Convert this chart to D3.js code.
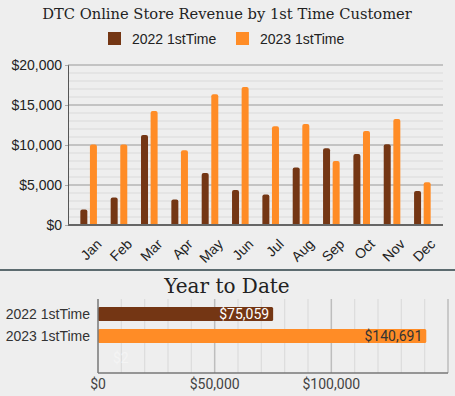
<!DOCTYPE html>
<html>
<head>
<meta charset="utf-8">
<script src="https://cdn.jsdelivr.net/npm/d3@7"></script>
<style>
  body { margin: 0; background: #eeeeee; }
  svg { display: block; }
</style>
</head>
<body>
<svg id="chart" width="455" height="396"></svg>
<script>
// data
const months = ['Jan', 'Feb', 'Mar', 'Apr', 'May', 'Jun', 'Jul', 'Aug', 'Sep', 'Oct', 'Nov', 'Dec'];
const rev2022 = [1950, 3450, 11250, 3200, 6500, 4375, 3800, 7200, 9580, 8875, 10080, 4250];
const rev2023 = [10050, 10050, 14250, 9330, 16330, 17250, 12330, 12630, 8000, 11750, 13250, 5330];
const seriesNames = ['2022 1stTime', '2023 1stTime'];
const yTicks = [0, 5000, 10000, 15000, 20000];
const ytdNames = ['2022 1stTime', '2023 1stTime', ''];
const ytdValues = [75059, 140691, 2];
const xTicks = [0, 50000, 100000];

const colors = ['#743614', '#ff8c26'];
const fmt = d3.format('$,');
const sans = '"Liberation Sans", Arial, sans-serif';

let svg = d3.select('#chart');

svg.append('rect').attr('width', 455).attr('height', 396).attr('fill', '#eeeeee');

// title + legend
svg.append('text')
  .attr('x', 227).attr('y', 19)
  .attr('text-anchor', 'middle')
  .style('font-family', '"DejaVu Serif"')
  .style('font-size', '14.7px')
  .attr('fill', '#222')
  .text('DTC Online Store Revenue by 1st Time Customer');

let legend = svg.append('g');
[108, 236].forEach((lx, i) => {
  legend.append('rect')
    .attr('x', lx).attr('y', 32).attr('width', 13).attr('height', 13)
    .attr('fill', colors[i]);
  legend.append('text')
    .attr('x', lx + 24).attr('y', 44)
    .style('font-family', sans)
    .style('font-size', '14px')
    .attr('fill', '#222')
    .text(seriesNames[i]);
});

// ---- monthly bars ----
let pL = 68, pR = 443, pT = 65, pB = 225;

let x = d3.scalePoint().domain(months).range([pL, pR]).padding(0.68);
let y = d3.scaleLinear().domain([0, 20000]).range([pB, pT]);

let grid = svg.append('g');
d3.range(1000, 20001, 1000).forEach(v => {
  let major = v % 5000 === 0;
  grid.append('line')
    .attr('x1', pL).attr('x2', pR)
    .attr('y1', y(v)).attr('y2', y(v))
    .attr('stroke', major ? '#b5b5b5' : '#d9d9d9')
    .attr('stroke-width', major ? 1.5 : 1.2);
});

let yAxis = d3.axisLeft(y).tickValues(yTicks).tickFormat(fmt).tickSize(3).tickPadding(3);
let yg = svg.append('g').attr('transform', `translate(${pL},0)`).call(yAxis);
yg.select('.domain').attr('stroke', '#555');
yg.selectAll('.tick line').attr('stroke', '#aaa');
yg.selectAll('.tick text')
  .style('font-family', sans)
  .style('font-size', '14px')
  .attr('fill', '#222');

function topRounded(x0, y0, w, h, r) {
  r = Math.min(r, h);
  return `M${x0},${y0 + h}V${y0 + r}Q${x0},${y0} ${x0 + r},${y0}H${x0 + w - r}Q${x0 + w},${y0} ${x0 + w},${y0 + r}V${y0 + h}Z`;
}

let bw = 7;
[rev2022, rev2023].forEach((vals, s) => {
  svg.append('g').selectAll('path')
    .data(vals)
    .join('path')
    .attr('fill', colors[s])
    .attr('d', (d, i) => {
      let cx = x(months[i]);
      let x0 = s === 0 ? cx - 1.3 - bw : cx + 1.3;
      return topRounded(x0, y(d), bw, pB - y(d), 2);
    });
});

svg.append('line')
  .attr('x1', pL).attr('x2', pR)
  .attr('y1', pB).attr('y2', pB)
  .attr('stroke', '#666').attr('stroke-width', 2);

let xg = svg.append('g');
months.forEach(m => {
  xg.append('text')
    .attr('transform', `translate(${x(m) + 7},${pB + 13}) rotate(-45)`)
    .attr('text-anchor', 'end')
    .attr('dy', '0.7em')
    .style('font-family', sans)
    .style('font-size', '14px')
    .attr('fill', '#222')
    .text(m);
});

// separator
svg.append('line')
  .attr('x1', 0).attr('x2', 455).attr('y1', 270).attr('y2', 270)
  .attr('stroke', '#2b3f45').attr('stroke-width', 1.5);

// ---- year to date ----
svg.append('text')
  .attr('x', 227).attr('y', 293)
  .attr('text-anchor', 'middle')
  .style('font-family', '"DejaVu Serif"')
  .style('font-size', '20px')
  .attr('fill', '#222')
  .text('Year to Date');

let bl = 98, br = 448, bt = 299, bb = 373;
let xb = d3.scaleLinear().domain([0, 150000]).range([bl, bl + 350]);
let yb = d3.scaleBand().domain(ytdNames).range([bt, bb]).paddingInner(0.364).paddingOuter(0.364);

d3.range(10000, 150001, 10000).forEach(v => {
  let major = v % 50000 === 0;
  svg.append('line')
    .attr('x1', xb(v)).attr('x2', xb(v))
    .attr('y1', bt).attr('y2', bb)
    .attr('stroke', major ? '#bdbdbd' : '#dcdcdc')
    .attr('stroke-width', major ? 1.5 : 1.2);
});

svg.append('g').selectAll('rect')
  .data(ytdValues.slice(0, 2))
  .join('rect')
  .attr('x', bl)
  .attr('y', (d, i) => yb(ytdNames[i]))
  .attr('width', d => xb(d) - bl)
  .attr('height', yb.bandwidth())
  .attr('rx', 1.5)
  .attr('fill', (d, i) => colors[i]);

svg.append('g').selectAll('text')
  .data(ytdValues)
  .join('text')
  .attr('x', (d, i) => i < 2 ? xb(d) - 4 : bl + 15)
  .attr('y', (d, i) => yb(ytdNames[i]) + yb.bandwidth() / 2)
  .attr('dy', '0.36em')
  .attr('text-anchor', (d, i) => i < 2 ? 'end' : 'start')
  .style('font-family', 'Roboto, "Liberation Sans"')
  .style('font-size', '14px')
  .attr('fill', (d, i) => i === 0 ? '#fff' : i === 1 ? '#333' : '#f4f4f4')
  .text(d => fmt(d));

ytdNames.slice(0, 2).forEach(n => {
  svg.append('text')
    .attr('x', 90).attr('y', yb(n) + yb.bandwidth() / 2)
    .attr('dy', '0.36em')
    .attr('text-anchor', 'end')
    .style('font-family', sans)
    .style('font-size', '14px')
    .attr('fill', '#333')
    .text(n);
});

svg.append('line')
  .attr('x1', bl).attr('x2', bl).attr('y1', bt).attr('y2', bb)
  .attr('stroke', '#777').attr('stroke-width', 1.5);
svg.append('line')
  .attr('x1', bl).attr('x2', br).attr('y1', bb).attr('y2', bb)
  .attr('stroke', '#777').attr('stroke-width', 1.5);

xTicks.forEach(v => {
  svg.append('text')
    .attr('x', xb(v)).attr('y', 389)
    .attr('text-anchor', 'middle')
    .style('font-family', 'Roboto, "Liberation Sans"')
    .style('font-size', '14px')
    .attr('fill', '#444')
    .text(fmt(v));
});
</script>
</body>
</html>
